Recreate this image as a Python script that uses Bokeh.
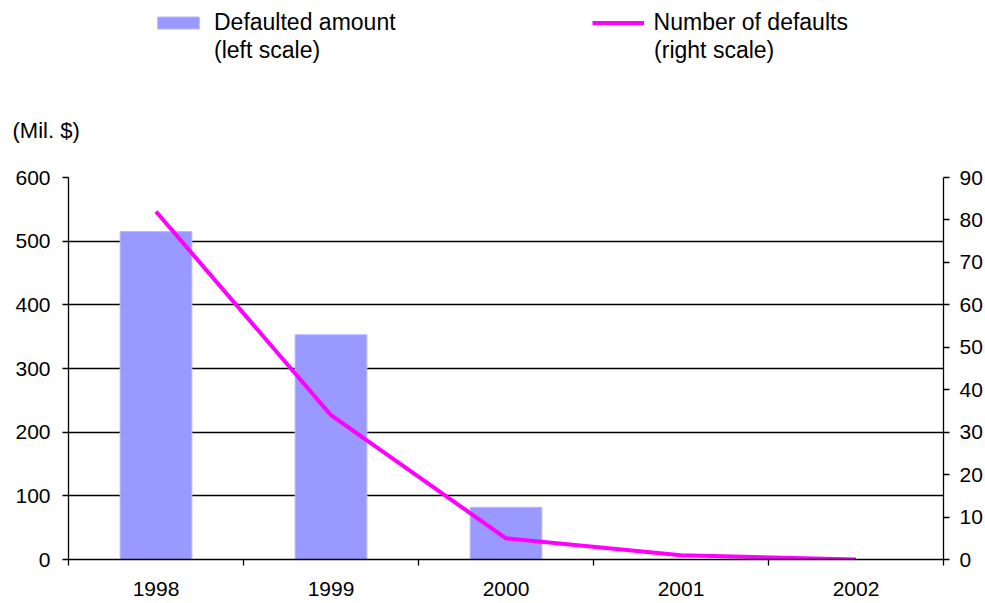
import numpy as np
from bokeh.plotting import figure
from bokeh.layouts import column
from bokeh.models import Range1d, LinearAxis, FixedTicker, Legend, LegendItem
from bokeh.embed import file_html
from bokeh.resources import INLINE

years = ["1998", "1999", "2000", "2001", "2002"]
amount = [515, 353, 82, 0, 0]
defaults = [82, 34, 5, 1, 0]
left_ticks = [0, 100, 200, 300, 400, 500, 600]
right_ticks = [0, 10, 20, 30, 40, 50, 60, 70, 80, 90]
series_names = ["Defaulted amount", "Number of defaults"]
scale_notes = ["(left scale)", "(right scale)"]
unit_label = "(Mil. $)"

FONT = "Liberation Sans"
BAR_FILL = "#9999FF"
BAR_LINE = "#B8B8FF"
LINE_COL = "#FF00FF"
xs = list(range(len(years)))
bounds = [i - 0.5 for i in range(len(years) + 1)]

TOP_H = 72

# ---------- header: legend ----------
top = figure(width=985, height=TOP_H, output_backend="svg", toolbar_location=None,
             x_range=Range1d(0, 1), y_range=Range1d(0, 1),
             x_axis_location=None, y_axis_location=None,
             min_border=0, min_border_left=68, min_border_right=42,
             min_border_top=0, min_border_bottom=0)
top.outline_line_color = None
top.grid.visible = False
top.background_fill_color = "white"
top.border_fill_color = "white"
nan = np.array([np.nan])
lb = top.vbar(x=nan, top=nan, width=1, fill_color=BAR_FILL, line_color=BAR_LINE)
ll = top.line(x=nan, y=nan, line_color=LINE_COL, line_width=4)
blank = top.line(x=nan, y=nan, line_alpha=0)


def make_legend(items, spacing, bottom):
    lg = Legend(items=items, orientation="horizontal", location=(84, TOP_H - bottom))
    lg.border_line_color = None
    lg.background_fill_alpha = 0
    lg.padding = 0
    lg.margin = 0
    lg.glyph_width = 52
    lg.glyph_height = 15
    lg.label_standoff = 10
    lg.spacing = spacing
    lg.label_text_font = FONT
    lg.label_text_font_size = "23px"
    lg.label_text_color = "black"
    return lg


leg1 = make_legend([LegendItem(label=series_names[0], renderers=[lb]),
                    LegendItem(label=series_names[1], renderers=[ll])], 196, 36)
leg2 = make_legend([LegendItem(label=scale_notes[0], renderers=[blank]),
                    LegendItem(label=scale_notes[1], renderers=[blank])], 272, 64)
top.add_layout(leg1, "center")
top.add_layout(leg2, "center")

# ---------- main chart ----------
p = figure(width=985, height=603 - TOP_H, output_backend="svg", toolbar_location=None,
           x_range=Range1d(-0.5, len(years) - 0.5),
           y_range=Range1d(left_ticks[0], left_ticks[-1]),
           min_border_left=68, min_border_right=42, min_border_top=177 - TOP_H,
           min_border_bottom=44, y_axis_location=None)
p.extra_y_ranges = {"right": Range1d(right_ticks[0], right_ticks[-1])}
p.background_fill_color = "white"
p.border_fill_color = "white"
p.outline_line_color = None
p.xgrid.visible = False

p.title.text = unit_label
p.title.align = "left"
p.title.offset = -56
p.title.standoff = 69
p.title.text_font = FONT
p.title.text_font_size = "22px"
p.title.text_font_style = "normal"
p.title.text_color = "black"

def style_axis(ax, standoff):
    ax.axis_line_color = "black"
    ax.axis_line_width = 1.3
    ax.major_tick_line_color = "black"
    ax.major_tick_line_width = 1.3
    ax.major_tick_out = 6
    ax.major_tick_in = 0
    ax.minor_tick_line_color = None
    ax.major_label_text_font = FONT
    ax.major_label_text_font_size = "21px"
    ax.major_label_text_color = "black"
    ax.major_label_standoff = standoff

yl = LinearAxis(ticker=FixedTicker(ticks=left_ticks))
style_axis(yl, 12)
p.add_layout(yl, "left")
yr = LinearAxis(ticker=FixedTicker(ticks=right_ticks), y_range_name="right")
style_axis(yr, 10)
p.add_layout(yr, "right")

xa = p.xaxis[0]
xa.ticker = FixedTicker(ticks=xs, minor_ticks=bounds)
xa.major_label_overrides = {i: y for i, y in zip(xs, years)}
style_axis(xa, 16)
xa.major_tick_out = 0
xa.minor_tick_line_color = "black"
xa.minor_tick_line_width = 1.3
xa.minor_tick_out = 6
xa.minor_tick_in = 0

p.ygrid.ticker = FixedTicker(ticks=left_ticks[1:])
p.ygrid.grid_line_color = "black"
p.ygrid.grid_line_width = 1.3

bars = p.vbar(x=xs, top=amount, width=0.41, fill_color=BAR_FILL,
              line_color=BAR_LINE, line_width=1)
line = p.line(xs, defaults, y_range_name="right", line_color=LINE_COL,
              line_width=4)

layout = column(top, p, spacing=0)
open("out.html", "w").write(file_html(layout, INLINE))
